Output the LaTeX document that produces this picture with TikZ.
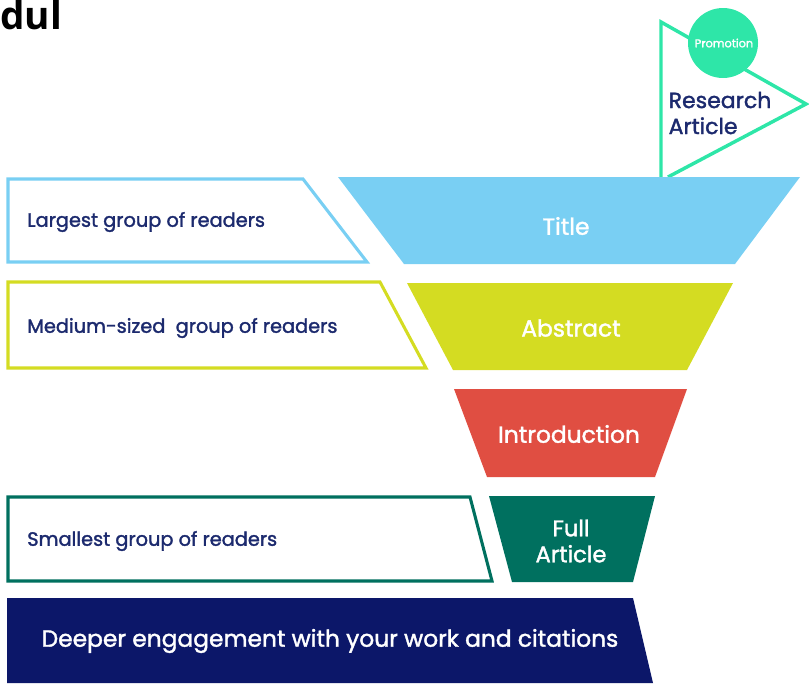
\documentclass[tikz,border=0pt]{standalone}
\usepackage{fontspec}
\setmainfont{Poppins}
\newfontfamily\medfont{Poppins}[FakeBold=1.6]
\newfontfamily\headfont{Open Sans}
\definecolor{tblue}{HTML}{79CFF3}
\definecolor{tyel}{HTML}{D4DC22}
\definecolor{tred}{HTML}{E04E42}
\definecolor{tgreen}{HTML}{00705F}
\definecolor{tnavy}{HTML}{0C1769}
\definecolor{tmint}{HTML}{2EE6A8}
\definecolor{ttext}{HTML}{1C2A6E}
\tikzset{
  lbl/.style={anchor=west, text=ttext, font=\medfont\fontsize{14.5}{17}\selectfont, inner sep=0pt},
  wlbl/.style={text=white, font=\medfont\fontsize{17.5}{21}\selectfont, inner sep=0pt, align=center},
  outl/.style={line width=2.3pt, fill=white, line join=miter}
}
\begin{document}
\begin{tikzpicture}[x=0.75pt,y=-0.75pt]
\useasboundingbox (0,0) rectangle (809,683);
% title fragment
\node[anchor=base west, inner sep=0pt, font=\headfont\bfseries\fontsize{29}{31}\selectfont] (dul) at (0,29) {dul};
% flag
\draw[tmint, line width=2.6pt, line join=miter] (661,177) -- (661,22) -- (806,104) -- (668,177);
\fill[tmint] (723,43) circle (35);
\node[text=white, font=\medfont\fontsize{8.5}{10}\selectfont, inner sep=0pt] (promo) at (724,43) {Promotion};
\node[text=ttext, font=\medfont\fontsize{16.5}{19.5}\selectfont, align=left, inner sep=0pt] (ra) at (720,113) {Research\\Article};
% left boxes
\draw[outl, draw=tblue] (8,179) -- (303,179) -- (367,262) -- (8,262) -- cycle;
\draw[outl, draw=tyel] (8,282) -- (380,282) -- (426,368) -- (8,368) -- cycle;
\draw[outl, draw=tgreen] (8,497) -- (470,497) -- (492,581) -- (8,581) -- cycle;
\node[lbl] (l1) at (27,222) {Largest group of readers};
\node[lbl] (l2) at (27,328) {Medium-sized\ \ group of readers};
\node[lbl] (l3) at (27,541) {Smallest group of readers};
% funnel
\fill[tblue] (338,177) -- (800,177) -- (735,264) -- (404,264) -- cycle;
\fill[tyel] (407,283) -- (733,283) -- (687,370) -- (453,370) -- cycle;
\fill[tred] (454,389) -- (687,389) -- (655,477) -- (487,477) -- cycle;
\fill[tgreen] (489,496) -- (655,496) -- (633,582) -- (512,582) -- cycle;
\fill[tnavy] (7,598) -- (633,598) -- (653,683) -- (7,683) -- cycle;
\node[wlbl] (t1) at (566,226) {Title};
\node[wlbl] (t2) at (571,328) {Abstract};
\node[wlbl] (t3) at (569,434) {Introduction};
\node[wlbl, font=\medfont\fontsize{17}{19.5}\selectfont] (t4) at (571,541) {Full\\Article};
\node[wlbl] (t5) at (330,641) {Deeper engagement with your work and citations};
\end{tikzpicture}
\end{document}
